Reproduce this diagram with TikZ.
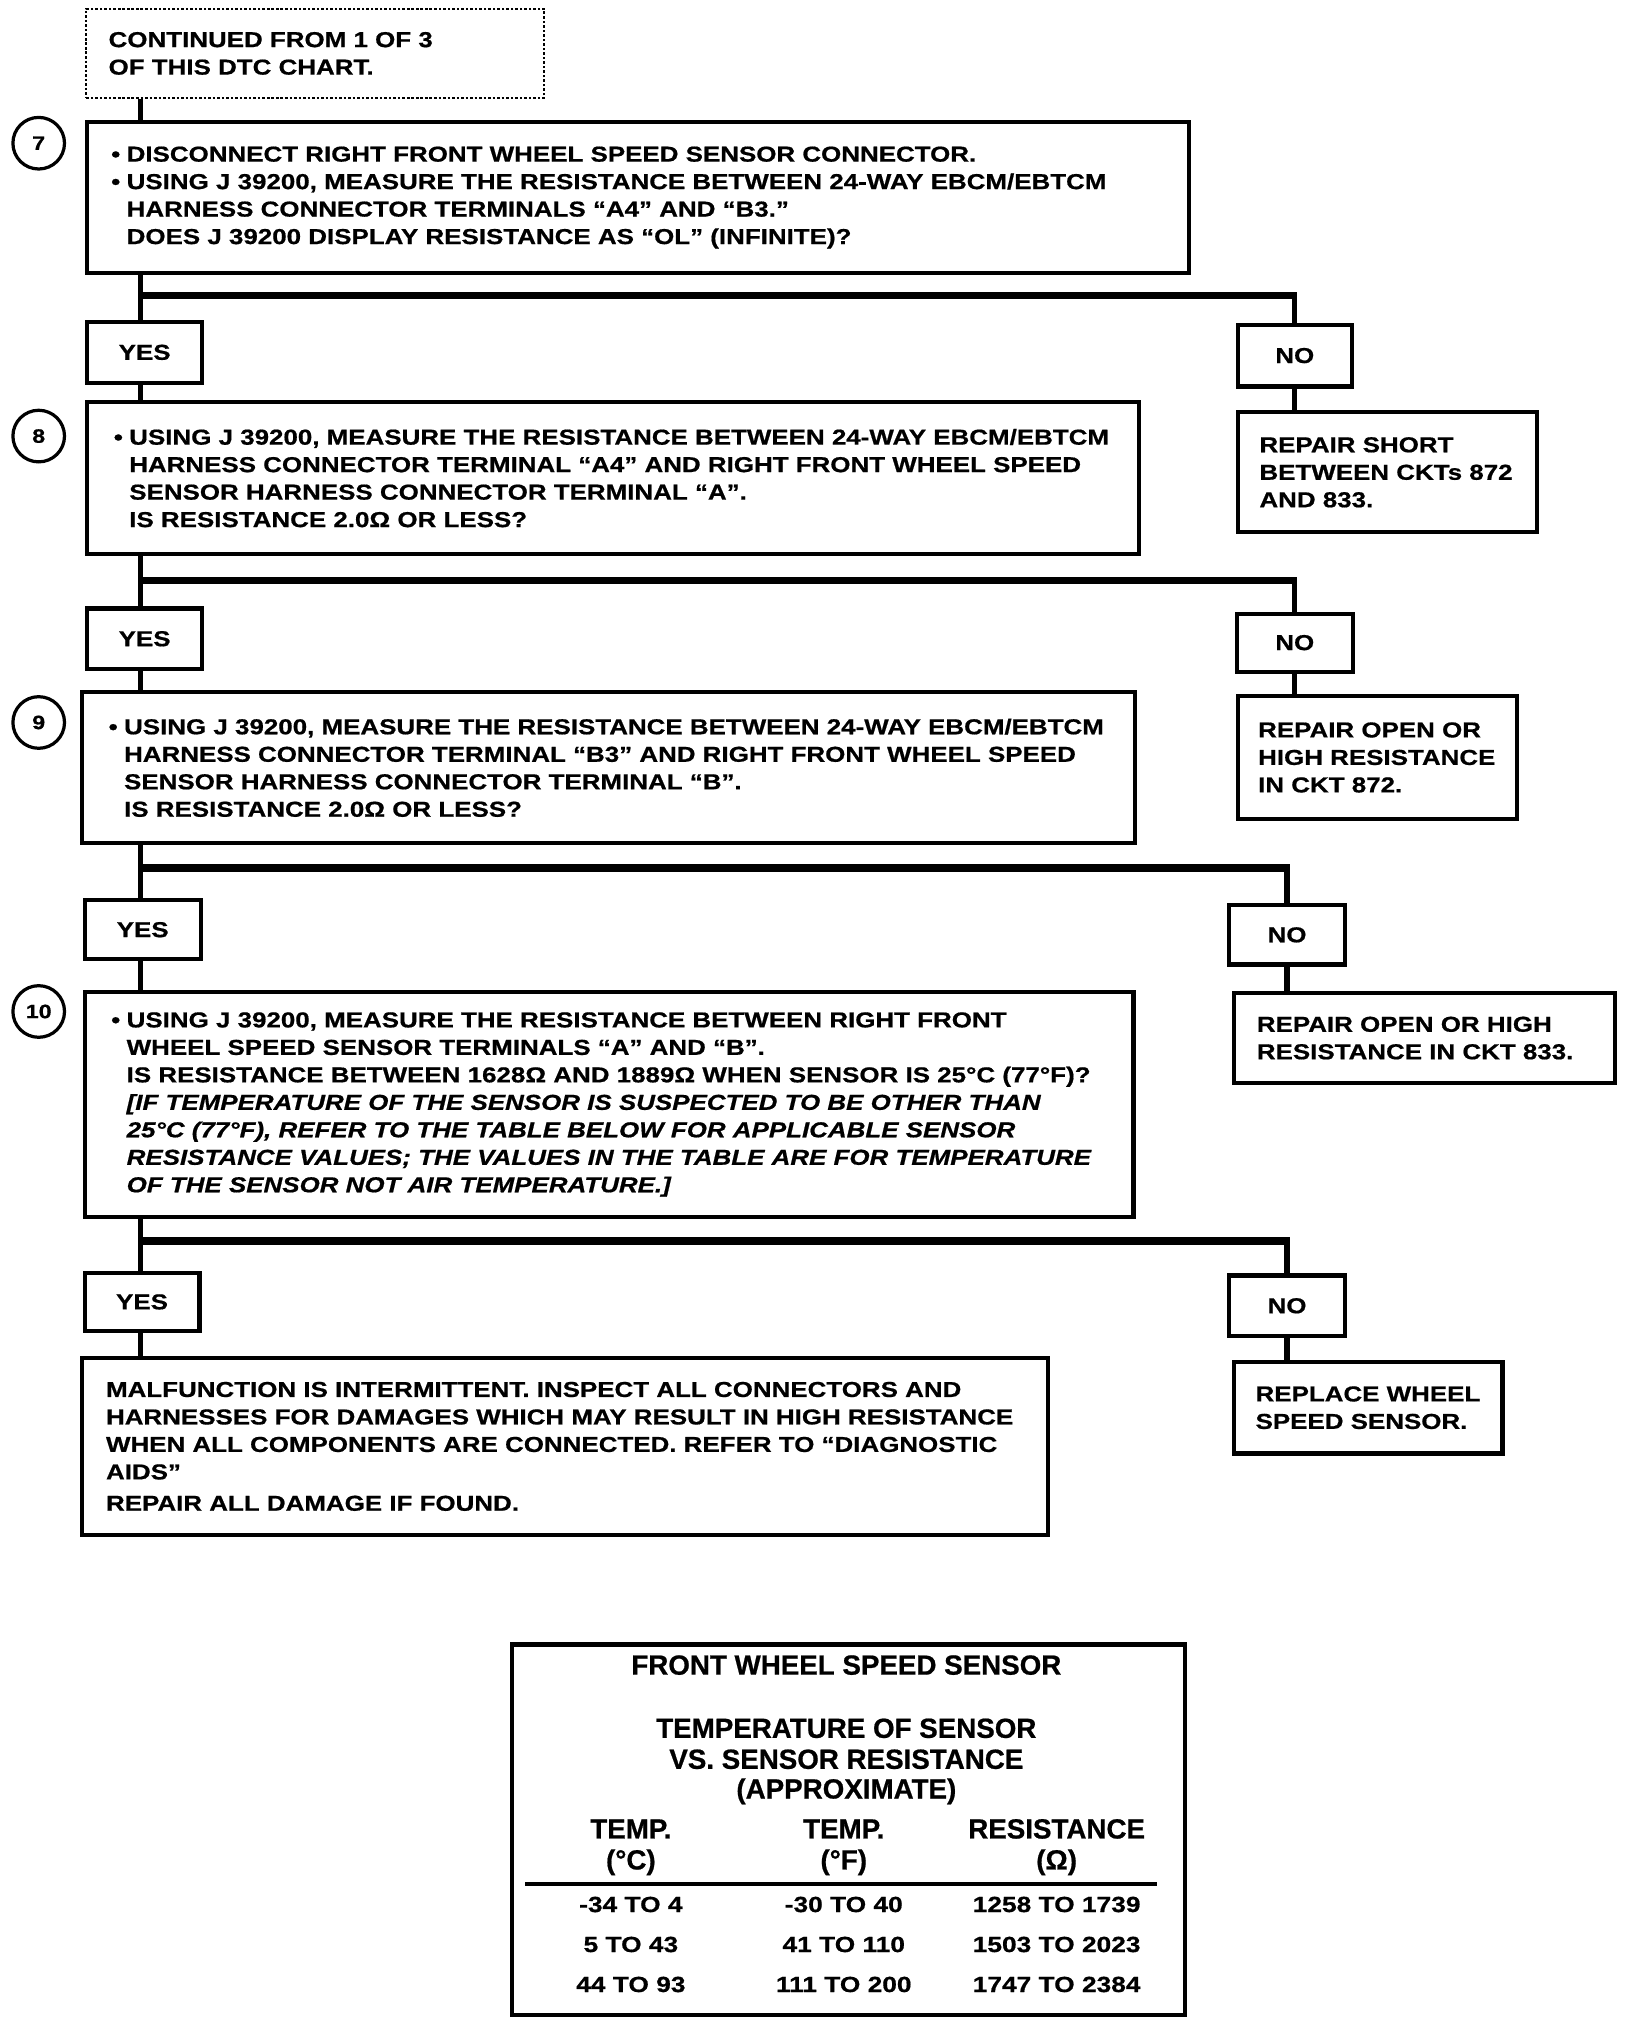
\documentclass[tikz,border=0pt]{standalone}
\usepackage{fontspec}
\setmainfont{Liberation Sans}[FakeStretch=1.2, BoldFeatures={FakeBold=0.7}, BoldItalicFeatures={FakeBold=0.7}]
\newfontfamily\tabfont{Liberation Sans}[BoldFeatures={FakeBold=0.7}]
\usetikzlibrary{calc}
\newcommand\bul{\makebox[12pt][l]{\textbullet}}
\newcommand\ind{\hspace*{12pt}}
\begin{document}
\begin{tikzpicture}[x=1pt,y=-1pt,
  box/.style={draw, line width=3.2pt, anchor=north west, inner sep=0pt},
  startbox/.style={draw, line width=1.8pt, dash pattern=on 2pt off 1.5pt, anchor=north west, inner sep=0pt},
  txt/.style={anchor=west, align=left, inner sep=0pt, font=\fontsize{16.75}{21.3}\selectfont\bfseries},
  yn/.style={box, font=\fontsize{16.75}{20}\selectfont\bfseries},
  circ/.style={draw, circle, line width=2.5pt, minimum size=40pt, inner sep=0pt, font=\fontsize{15}{18}\selectfont\bfseries},
  vl/.style={line width=4pt},
  hl/.style={line width=6pt},
  tt/.style={anchor=base, inner sep=0pt, font=\tabfont\fontsize{21.5}{24}\selectfont\bfseries},
  tr/.style={anchor=base, inner sep=0pt, font=\fontsize{17}{20}\selectfont\bfseries}
]
\useasboundingbox (0,0) rectangle (1265,1565.7);
\coordinate (tk) at (109,0);
\coordinate (j7) at (0,229);
\coordinate (j8) at (0,450);
\coordinate (j9) at (0,673);
\coordinate (j10) at (0,962);

% start
\node[startbox, minimum width=355pt, minimum height=69pt] (st) at (66,6) {};
\node[txt] (tst) at ([xshift=18pt]st.west) {CONTINUED FROM 1 OF 3\\OF THIS DTC CHART.};

% step 7
\node[circ] (c7) at (30,111) {7};
\node[box, minimum width=854pt, minimum height=117pt] (b7) at (66,93) {};
\node[txt] (t7) at ([xshift=20pt]b7.west) {\bul DISCONNECT RIGHT FRONT WHEEL SPEED SENSOR CONNECTOR.\\
\bul USING J 39200, MEASURE THE RESISTANCE BETWEEN 24-WAY EBCM/EBTCM\\
\ind HARNESS CONNECTOR TERMINALS “A4” AND “B3.”\\
\ind DOES J 39200 DISPLAY RESISTANCE AS “OL” (INFINITE)?};
\node[yn, minimum width=89pt, minimum height=47pt] (y7) at (66,248) {YES};
\node[yn, minimum width=88pt, minimum height=48pt] (n7) at (958,250) {NO};
\node[box, minimum width=232pt, minimum height=93pt] (r7) at (958,318) {};
\node[txt] (tr7) at ([xshift=18pt]r7.west) {REPAIR SHORT\\BETWEEN CKTs 872\\AND 833.};

% step 8
\node[circ] (c8) at (30,338) {8};
\node[box, minimum width=815pt, minimum height=118pt] (b8) at (66,310) {};
\node[txt] (t8) at ([xshift=22pt]b8.west) {\bul USING J 39200, MEASURE THE RESISTANCE BETWEEN 24-WAY EBCM/EBTCM\\
\ind HARNESS CONNECTOR TERMINAL “A4” AND RIGHT FRONT WHEEL SPEED\\
\ind SENSOR HARNESS CONNECTOR TERMINAL “A”.\\
\ind IS RESISTANCE 2.0Ω OR LESS?};
\node[yn, minimum width=89pt, minimum height=47pt] (y8) at (66,470) {YES};
\node[yn, minimum width=90pt, minimum height=45pt] (n8) at (957,474) {NO};
\node[box, minimum width=216pt, minimum height=95pt] (r8) at (958,538) {};
\node[txt] (tr8) at ([xshift=17pt]r8.west) {REPAIR OPEN OR\\HIGH RESISTANCE\\IN CKT 872.};

% step 9
\node[circ] (c9) at (30,560) {9};
\node[box, minimum width=816pt, minimum height=117pt] (b9) at (62,535) {};
\node[txt] (t9) at ([xshift=22pt]b9.west) {\bul USING J 39200, MEASURE THE RESISTANCE BETWEEN 24-WAY EBCM/EBTCM\\
\ind HARNESS CONNECTOR TERMINAL “B3” AND RIGHT FRONT WHEEL SPEED\\
\ind SENSOR HARNESS CONNECTOR TERMINAL “B”.\\
\ind IS RESISTANCE 2.0Ω OR LESS?};
\node[yn, minimum width=90pt, minimum height=46pt] (y9) at (64,696) {YES};
\node[yn, minimum width=90pt, minimum height=46pt] (n9) at (951,700) {NO};
\node[box, minimum width=295pt, minimum height=70pt] (r9) at (955,768) {};
\node[txt] (tr9) at ([xshift=19pt]r9.west) {REPAIR OPEN OR HIGH\\RESISTANCE IN CKT 833.};

% step 10
\node[circ] (c10) at (30,784) {10};
\node[box, minimum width=813pt, minimum height=175pt] (b10) at (64,767) {};
\node[txt] (t10) at ([xshift=22pt]b10.west) {\bul USING J 39200, MEASURE THE RESISTANCE BETWEEN RIGHT FRONT\\
\ind WHEEL SPEED SENSOR TERMINALS “A” AND “B”.\\
\ind IS RESISTANCE BETWEEN 1628Ω AND 1889Ω WHEN SENSOR IS 25°C (77°F)?\\
\ind\textit{[IF TEMPERATURE OF THE SENSOR IS SUSPECTED TO BE OTHER THAN}\\
\ind\textit{25°C (77°F), REFER TO THE TABLE BELOW FOR APPLICABLE SENSOR}\\
\ind\textit{RESISTANCE VALUES; THE VALUES IN THE TABLE ARE FOR TEMPERATURE}\\
\ind\textit{OF THE SENSOR NOT AIR TEMPERATURE.]}};
\node[yn, minimum width=89pt, minimum height=45pt] (y10) at (64,985) {YES};
\node[yn, minimum width=90pt, minimum height=47pt] (n10) at (951,987) {NO};
\node[box, minimum width=208pt, minimum height=71pt] (r10) at (955,1054) {};
\node[txt] (tr10) at ([xshift=18pt]r10.west) {REPLACE WHEEL\\SPEED SENSOR.};

% final
\node[box, minimum width=749pt, minimum height=137pt] (fin) at (62,1051) {};
\node[txt] (tfin) at ([xshift=20pt]fin.west) {MALFUNCTION IS INTERMITTENT. INSPECT ALL CONNECTORS AND\\
HARNESSES FOR DAMAGES WHICH MAY RESULT IN HIGH RESISTANCE\\
WHEN ALL COMPONENTS ARE CONNECTED. REFER TO “DIAGNOSTIC\\
AIDS”\\[3pt]
REPAIR ALL DAMAGE IF FOUND.};

% connectors
\draw[vl] (st.south -| tk) -- (b7.north -| tk);
\draw[vl] (b7.south -| tk) -- (y7.north -| tk);
\draw[hl] ([xshift=-2pt]j7 -| tk) -- ([xshift=2pt]n7.north |- j7);
\draw[vl] (n7.north |- j7) -- (n7.north);
\draw[vl] (n7.south) -- (r7.north -| n7.south);
\draw[vl] (y7.south -| tk) -- (b8.north -| tk);

\draw[vl] (b8.south -| tk) -- (y8.north -| tk);
\draw[hl] ([xshift=-2pt]j8 -| tk) -- ([xshift=2pt]n8.north |- j8);
\draw[vl] (n8.north |- j8) -- (n8.north);
\draw[vl] (n8.south) -- (r8.north -| n8.south);
\draw[vl] (y8.south -| tk) -- (b9.north -| tk);

\draw[vl] (b9.south -| tk) -- (y9.north -| tk);
\draw[hl] ([xshift=-2pt]j9 -| tk) -- ([xshift=2pt]n9.north |- j9);
\draw[vl] (n9.north |- j9) -- (n9.north);
\draw[vl] (n9.south) -- (r9.north -| n9.south);
\draw[vl] (y9.south -| tk) -- (b10.north -| tk);

\draw[vl] (b10.south -| tk) -- (y10.north -| tk);
\draw[hl] ([xshift=-2pt]j10 -| tk) -- ([xshift=2pt]n10.north |- j10);
\draw[vl] (n10.north |- j10) -- (n10.north);
\draw[vl] (n10.south) -- (r10.north -| n10.south);
\draw[vl] (y10.south -| tk) -- (fin.north -| tk);

% table
\node[box, minimum width=522pt, minimum height=287pt] (tab) at (395,1273) {};
\node[tt] (tb1) at (656,1298) {FRONT WHEEL SPEED SENSOR};
\node[tt] (tb2) at (656,1347) {TEMPERATURE OF SENSOR};
\node[tt] (tb3) at (656,1371) {VS. SENSOR RESISTANCE};
\node[tt] (tb4) at (656,1394) {(APPROXIMATE)};
\node[tt] (h1a) at (489,1425) {TEMP.};
\node[tt] (h1b) at (489,1449) {(°C)};
\node[tt] (h2a) at (654,1425) {TEMP.};
\node[tt] (h2b) at (654,1449) {(°F)};
\node[tt] (h3a) at (819,1425) {RESISTANCE};
\node[tt] (h3b) at (819,1449) {(Ω)};
\coordinate (rl) at (407,1460);
\coordinate (rr) at (897,1460);
\draw[line width=3pt] (rl) -- (rr);
\node[tr] (r1a) at (489,1482) {-34 TO 4};
\node[tr] (r1b) at (654,1482) {-30 TO 40};
\node[tr] (r1c) at (819,1482) {1258 TO 1739};
\node[tr] (r2a) at (489,1513) {5 TO 43};
\node[tr] (r2b) at (654,1513) {41 TO 110};
\node[tr] (r2c) at (819,1513) {1503 TO 2023};
\node[tr] (r3a) at (489,1544) {44 TO 93};
\node[tr] (r3b) at (654,1544) {111 TO 200};
\node[tr] (r3c) at (819,1544) {1747 TO 2384};
\end{tikzpicture}
\end{document}
